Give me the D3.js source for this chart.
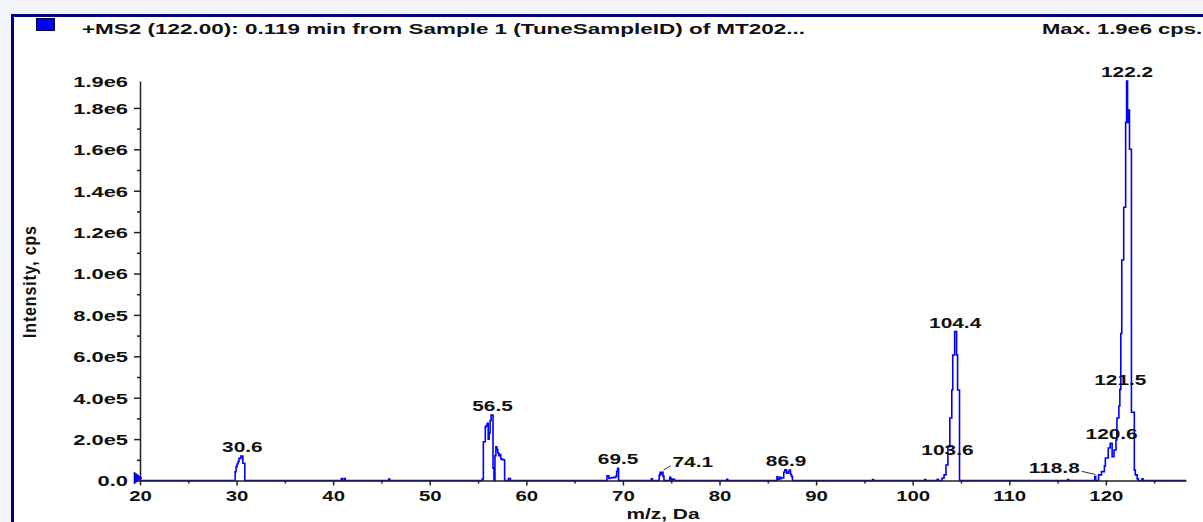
<!DOCTYPE html>
<html>
<head>
<meta charset="utf-8">
<script src="https://cdn.jsdelivr.net/npm/d3@7"></script>
<style>
  html, body { margin: 0; padding: 0; background: #f1f4f9; overflow: hidden; }
  svg { display: block; }
  text { font-family: "Liberation Sans", Arial, sans-serif; font-weight: bold; fill: #111; }
</style>
</head>
<body>
<svg id="spectrum"></svg>
<script>
// profile spectrum (m/z, Da / intensity, cps)
var profileMz = [
    20,
    29.8, 29.9, 30.0, 30.1, 30.2, 30.3, 30.4, 30.5, 30.6, 30.7, 30.8, 30.9,
    40.8, 40.9, 41.0, 41.1, 41.2, 41.3,
    45.7, 45.8, 45.9,
    55.4, 55.5, 55.6, 55.7, 55.8, 55.9, 56.0, 56.1, 56.2, 56.3, 56.4, 56.5, 56.6, 56.7,
    56.8, 56.9, 57.0, 57.1, 57.2, 57.3, 57.4, 57.5, 57.6, 57.7, 57.8,
    58.1, 58.2, 58.3, 58.4,
    68.3, 68.4, 68.5, 68.6, 68.7, 68.8, 68.9, 69.0, 69.1, 69.2, 69.3, 69.4, 69.5, 69.6,
    72.9, 73.0, 73.1,
    73.7, 73.8, 73.9, 74.0, 74.1, 74.2, 74.3,
    74.8, 74.9, 75.0, 75.1, 75.2, 75.3, 75.4,
    80.7, 80.8, 80.9,
    85.9, 86.0, 86.1, 86.2, 86.3, 86.4, 86.5, 86.6, 86.7, 86.8, 86.9, 87.0, 87.1, 87.2, 87.3, 87.4, 87.5, 87.6,
    95.8, 95.9, 96.0,
    101.2, 101.3, 101.4,
    102.5, 102.6, 102.7,
    103.0, 103.1, 103.2, 103.3, 103.4, 103.5, 103.6, 103.7, 103.8, 103.9, 104.0,
    104.1, 104.2, 104.3, 104.4, 104.5, 104.6, 104.7, 104.8, 104.9,
    116.0, 116.1, 116.2,
    118.8, 118.9, 119.0,
    119.2, 119.3, 119.4, 119.5, 119.6, 119.7, 119.8, 119.9, 120.0, 120.1, 120.2, 120.3,
    120.4, 120.5, 120.6, 120.7, 120.8, 120.9, 121.0, 121.1, 121.2, 121.3, 121.4, 121.5,
    121.6, 121.7, 121.8, 121.9, 122.0, 122.1, 122.2, 122.3, 122.4, 122.5, 122.6, 122.7,
    122.8, 122.9, 123.0, 123.1, 123.2, 123.3, 123.4,
    123.7, 123.8, 123.9,
    128.3
];
var profileIntensity = [
    0,
    0, 42000, 67000, 80000, 91000, 107000, 107000, 118000, 118000, 83000, 83000, 0,
    0, 10000, 0, 0, 9000, 0,
    0, 7000, 0,
    0, 8000, 187000, 187000, 260000, 265000, 276000, 200000, 230000, 290000, 316000, 316000, 60000, 0,
    120000, 163000, 150000, 133000, 120000, 125000, 105000, 102000, 100000, 100000, 0,
    0, 10000, 10000, 0,
    0, 23000, 23000, 10000, 12000, 12000, 14000, 14000, 15000, 15000, 20000, 45000, 59000, 0,
    0, 8000, 0,
    0, 25000, 40000, 30000, 40000, 20000, 0,
    0, 15000, 8000, 0, 6000, 6000, 0,
    0, 6000, 0,
    0, 18000, 6000, 6000, 15000, 10000, 12000, 12000, 40000, 50000, 52000, 35000, 35000, 45000, 50000, 30000, 20000, 0,
    0, 5000, 0,
    0, 5000, 0,
    0, 6000, 0,
    0, 12000, 12000, 27000, 27000, 75000, 75000, 163000, 163000, 302000, 302000,
    437000, 606000, 606000, 719000, 719000, 606000, 437000, 437000, 0,
    0, 5000, 0,
    0, 20000, 0,
    0, 27000, 27000, 27000, 43000, 43000, 43000, 70000, 109000, 109000, 109000, 157000,
    157000, 180000, 180000, 115000, 115000, 147000, 147000, 196000, 302000, 302000, 360000, 440000,
    710000, 1065000, 1065000, 1320000, 1320000, 1730000, 1930000, 1730000, 1790000, 1600000, 1600000, 330000,
    330000, 330000, 50000, 27000, 27000, 8000, 0,
    0, 8000, 0,
    0
];

// annotated peaks
var labelMz = [30.6, 56.5, 69.5, 74.1, 86.9, 103.6, 104.4, 118.8, 120.6, 121.5, 122.2];
var labelIntensity = [118000, 316000, 59000, 40000, 52000, 106000, 719000, 20000, 183000, 440000, 1930000];

var xTickValues = [20, 30, 40, 50, 60, 70, 80, 90, 100, 110, 120];
var xMinorTickValues = [25, 35, 45, 55, 65, 75, 85, 95, 105, 115, 125];
var yTickValues = [0, 2e5, 4e5, 6e5, 8e5, 1e6, 1.2e6, 1.4e6, 1.6e6, 1.8e6];
var yMinorTickValues = [1e5, 3e5, 5e5, 7e5, 9e5, 1.1e6, 1.3e6, 1.5e6, 1.7e6];

var titleText = '+MS2 (122.00): 0.119 min from Sample 1 (TuneSampleID) of MT202...';

var width = 1203;
var height = 522;

function stretch(sx) {
    return `scale(${sx},1)`;
}

function createFrame(svg) {
    svg.attr('width', width)
        .attr('height', height);

    svg.append('rect')
        .attr('x', 12.5)
        .attr('y', 15.5)
        .attr('width', width)
        .attr('height', height)
        .attr('fill', '#ffffff')
        .attr('stroke', '#00007c')
        .attr('stroke-width', 3);

    svg.append('rect')
        .attr('x', 36.5)
        .attr('y', 18.5)
        .attr('width', 18)
        .attr('height', 12)
        .attr('fill', '#0000ff')
        .attr('stroke', '#00003c');

    svg.append('text')
        .attr('x', 82)
        .attr('y', 34)
        .attr('textLength', 723)
        .attr('lengthAdjust', 'spacingAndGlyphs')
        .style('font-size', '15px')
        .text(titleText);
}

function drawSpectrum() {
    var svg = d3.select('#spectrum');
    createFrame(svg);

    var data = profileMz.map((d, i) => ({mz: d, value: profileIntensity[i]}));
    var maxValue = d3.max(data, d => d.value);

    svg.append('text')
        .attr('x', 1042)
        .attr('y', 34)
        .attr('textLength', 160)
        .attr('lengthAdjust', 'spacingAndGlyphs')
        .style('font-size', '15px')
        .text('Max. ' + maxValue.toExponential(1).replace('e+', 'e') + ' cps.');

    var xScale = d3.scaleLinear()
                    .domain([20, 128.3])
                    .range([140, 1186]);

    var yScale = d3.scaleLinear()
                    .domain([0, maxValue])
                    .range([480.5, 81]);

    var line = d3.line()
                    .x(d => xScale(d.mz))
                    .y(d => yScale(d.value))
                    .curve(d3.curveStep);

    svg.append('path')
        .datum(data)
        .attr('d', line)
        .attr('fill', 'none')
        .attr('stroke', '#0000ff')
        .attr('stroke-width', 1.6);

    var yFormat = d => d === 0 ? '0.0' : d.toExponential(1).replace('e+', 'e');

    // minor ticks first, majors on top
    svg.append('g')
        .attr('transform', `translate(0, ${yScale(0)})`)
        .call(d3.axisBottom(xScale).tickValues(xMinorTickValues).tickSize(3).tickSizeOuter(0).tickFormat(''))
        .call(g => g.select('.domain').remove());

    svg.append('g')
        .attr('transform', `translate(${xScale(20)}, 0)`)
        .call(d3.axisLeft(yScale).tickValues(yMinorTickValues).tickSize(3).tickSizeOuter(0).tickFormat(''))
        .call(g => g.select('.domain').remove());

    var xAxis = svg.append('g')
        .classed('x-axis', true)
        .attr('transform', `translate(0, ${yScale(0)})`)
        .call(d3.axisBottom(xScale).tickValues(xTickValues).tickSize(5).tickSizeOuter(0).tickFormat(d3.format('d')));

    xAxis.selectAll('text')
        .attr('y', 21)
        .attr('dy', null)
        .attr('transform', stretch(1.36))
        .style('font-size', '15px');

    var yAxis = svg.append('g')
        .classed('y-axis', true)
        .attr('transform', `translate(${xScale(20)}, 0)`)
        .call(d3.axisLeft(yScale).tickValues(yTickValues.concat([maxValue])).tickSize(6).tickSizeOuter(0).tickFormat(yFormat));

    yAxis.selectAll('text')
        .attr('x', -12 / 1.46)
        .attr('dy', '0.36em')
        .attr('transform', stretch(1.46))
        .style('font-size', '15px');

    // the top label has no tick mark
    yAxis.selectAll('.tick')
        .filter(d => d === maxValue)
        .select('line')
        .remove();

    svg.selectAll('.domain, .tick line')
        .attr('stroke', '#222')
        .attr('stroke-width', 1.5);

    // zero marker
    var x0 = xScale(20), y0 = yScale(0);
    svg.append('path')
        .attr('d', `M${x0 - 6},${y0 - 8.5}L${x0 + 2},${y0 - 2.5}L${x0 - 6},${y0 + 3.5}Z`)
        .attr('fill', '#0000ff')
        .attr('stroke', '#0000b0')
        .attr('stroke-width', 0.6);

    // axis titles
    svg.append('text')
        .attr('transform', `translate(663, 519) ${stretch(1.39)}`)
        .style('text-anchor', 'middle')
        .style('font-size', '15px')
        .text('m/z, Da');

    svg.append('text')
        .attr('transform', `translate(36, 282) ${stretch(1.2)} rotate(-90)`)
        .attr('textLength', 112)
        .attr('lengthAdjust', 'spacing')
        .style('text-anchor', 'middle')
        .style('font-size', '16px')
        .text('Intensity, cps');

    // peak labels
    var leaderSide = {'74.1': 1, '118.8': -1};
    labelMz.forEach((mz, i) => {
        var px = xScale(mz);
        var py = yScale(labelIntensity[i]);
        var side = leaderSide[mz.toFixed(1)] || 0;
        var label = mz.toFixed(1);

        if (side === 0) {
            svg.append('text')
                .attr('transform', `translate(${px}, ${py - 4}) ${stretch(1.39)}`)
                .style('text-anchor', 'middle')
                .style('font-size', '15px')
                .text(label);
            return;
        }

        var reach = side > 0 ? 8 : -12.5;
        var drop = side > 0 ? 6.5 : 5;
        svg.append('line')
            .attr('x1', px + 1)
            .attr('y1', py - 2)
            .attr('x2', px + reach)
            .attr('y2', py - drop)
            .attr('stroke', '#333')
            .attr('stroke-width', 1);

        svg.append('text')
            .attr('transform', `translate(${px + reach + side * 2}, ${py - drop + 1.5}) ${stretch(1.39)}`)
            .style('text-anchor', side > 0 ? 'start' : 'end')
            .style('font-size', '15px')
            .text(label);
    });
}

drawSpectrum();
</script>
</body>
</html>
